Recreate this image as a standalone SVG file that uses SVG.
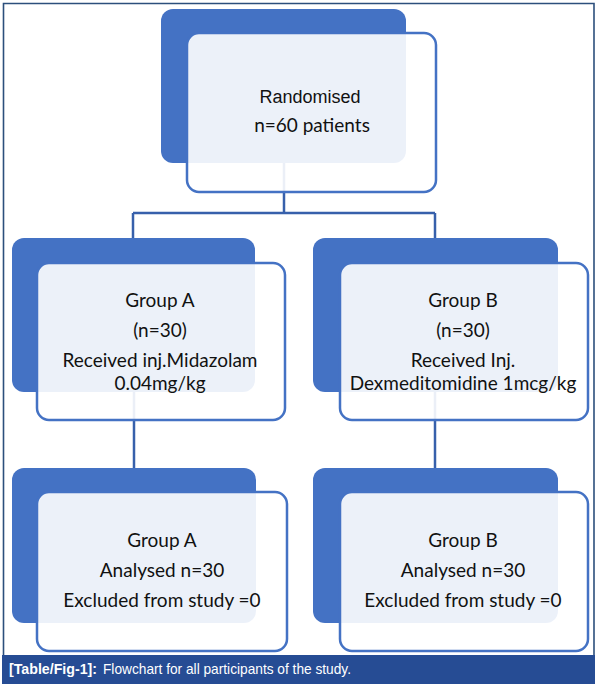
<svg xmlns="http://www.w3.org/2000/svg" width="597" height="688" viewBox="0 0 597 688">
<style>
.back{fill:#4472c4;}
.front{fill:#ffffff;fill-opacity:0.9;stroke:#4472c4;stroke-width:2.5;}
.conn{fill:none;stroke:#3760ab;stroke-width:2.5;}
.t{font-family:Lato,"Open Sans","Liberation Sans",sans-serif;font-size:19px;fill:#111;text-anchor:middle;}
.ta{font-family:"Liberation Sans",Arial,sans-serif;font-size:18px;fill:#111;text-anchor:middle;}
.cap{font-family:"Liberation Sans",Arial,sans-serif;font-size:15px;fill:#fff;}
</style>
<rect x="0" y="0" width="597" height="688" fill="#ffffff"/>
<path d="M3.5 656 V3.5 H594 V656" fill="none" stroke="#2c4f7c" stroke-width="1.6"/>
<g id="connectors">
<path class="conn" d="M284 163 V213"/>
<path class="conn" d="M133 213 H435"/>
<path class="conn" d="M133 213 V238"/>
<path class="conn" d="M435 213 V238"/>
<path class="conn" d="M134 392 V468"/>
<path class="conn" d="M435 392 V468"/>
</g>
<g id="randomised">
<rect class="back" x="161" y="9" width="245" height="154" rx="12"/>
<rect class="front" x="187" y="33" width="249" height="159" rx="12"/>
<text class="ta" x="310" y="103">Randomised</text>
<text class="t" x="312" y="132">n=60 patients</text>
</g>
<g id="groupA">
<rect class="back" x="12" y="238" width="243" height="154" rx="12"/>
<rect class="front" x="37" y="263" width="248" height="157" rx="12"/>
<text class="t" x="160" y="307">Group A</text>
<text class="t" x="160" y="337">(n=30)</text>
<text class="t" x="160" y="367">Received inj.Midazolam</text>
<text class="t" x="160" y="390">0.04mg/kg</text>
</g>
<g id="groupB">
<rect class="back" x="313" y="238" width="245" height="154" rx="12"/>
<rect class="front" x="340" y="263" width="248" height="157" rx="12"/>
<text class="t" x="463" y="307">Group B</text>
<text class="t" x="463" y="337">(n=30)</text>
<text class="t" x="463" y="367">Received Inj.</text>
<text class="t" x="463" y="390">Dexmeditomidine 1mcg/kg</text>
</g>
<g id="analysedA">
<rect class="back" x="12" y="468" width="244" height="155" rx="12"/>
<rect class="front" x="37" y="492" width="250" height="159" rx="12"/>
<text class="t" x="162" y="547">Group A</text>
<text class="t" x="162" y="577">Analysed n=30</text>
<text class="t" x="162" y="607">Excluded from study =0</text>
</g>
<g id="analysedB">
<rect class="back" x="313" y="468" width="245" height="155" rx="12"/>
<rect class="front" x="340" y="492" width="248" height="159" rx="12"/>
<text class="t" x="463" y="547">Group B</text>
<text class="t" x="463" y="577">Analysed n=30</text>
<text class="t" x="463" y="607">Excluded from study =0</text>
</g>
<g id="caption">
<rect x="2" y="655" width="593" height="29" fill="#264c94"/>
<text class="cap" x="9" y="674" font-weight="bold" textLength="88" lengthAdjust="spacingAndGlyphs">[Table/Fig-1]:</text>
<text class="cap" x="103" y="674" textLength="248" lengthAdjust="spacingAndGlyphs">Flowchart for all participants of the study.</text>
</g>
</svg>
